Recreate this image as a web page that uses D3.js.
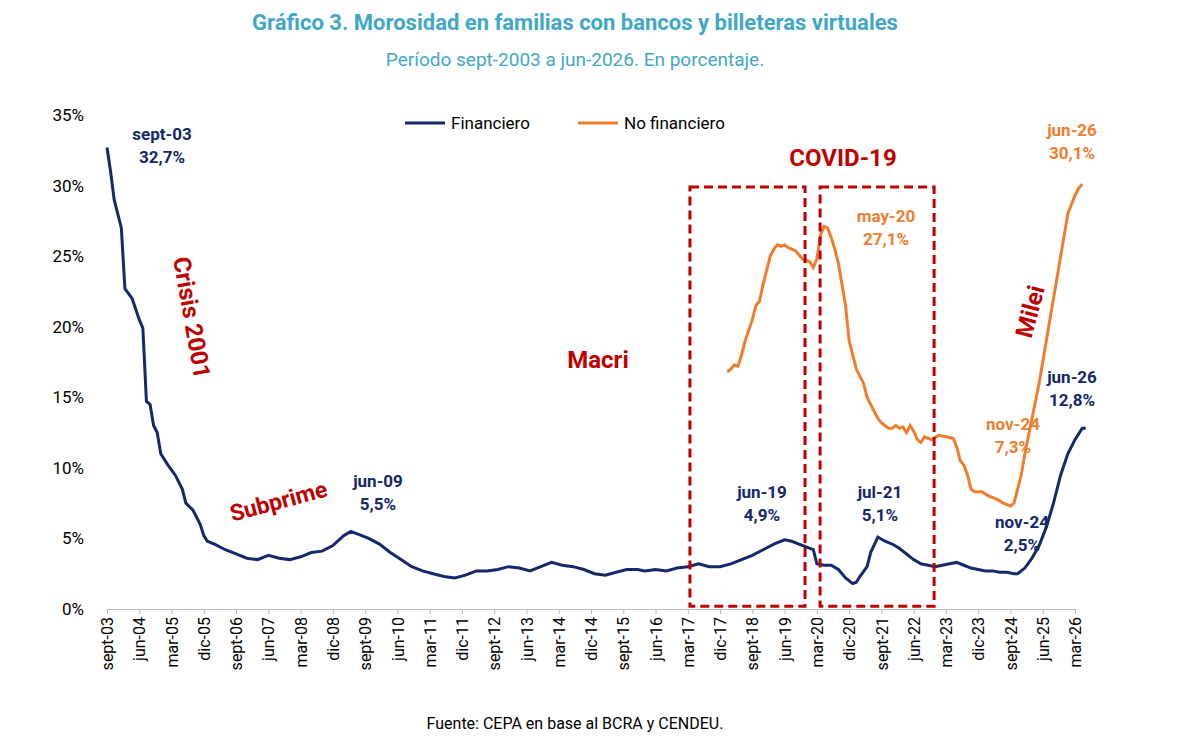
<!DOCTYPE html><html><head><meta charset="utf-8"><script src="https://cdn.jsdelivr.net/npm/d3@7"></script>
<style>body{margin:0;background:#fff;font-family:Roboto,"Noto Sans",sans-serif}</style></head><body><svg id="c" width="1200" height="741"></svg>
<script>
const fmonths=[0,1,2,4,5,7,9,10,11,12,13,14,15,17,19,21,22,24,26,27,28,30,33,36,39,42,45,48,51,54,57,60,63,66,68,70,73,76,79,82,85,88,91,94,97,100,103,106,109,112,115,118,121,124,127,130,133,136,139,142,145,148,150,153,156,159,162,165,168,171,174,177,180,183,186,189,191,193,195,197,198,200,202,204,206,208,209,210,212,213,215,217,219,221,223,225,227,229,231,233,235,237,239,241,243,245,247,249,251,253,254,256,258,260,262,264,266,268,270,272,273];
const fvals=[32.7,31,29,27,22.7,22,20.5,19.9,14.7,14.5,13,12.5,11,10.2,9.5,8.5,7.5,7,6,5.2,4.8,4.6,4.2,3.9,3.6,3.5,3.8,3.6,3.5,3.7,4,4.1,4.5,5.2,5.5,5.3,5,4.6,4,3.5,3,2.7,2.5,2.3,2.2,2.4,2.7,2.7,2.8,3,2.9,2.7,3,3.3,3.1,3,2.8,2.5,2.4,2.6,2.8,2.8,2.7,2.8,2.7,2.9,3,3.2,3,3,3.2,3.5,3.8,4.2,4.6,4.9,4.8,4.6,4.4,4.2,3.2,3.1,3.1,2.8,2.2,1.8,1.9,2.3,3,4,5.1,4.8,4.6,4.3,3.9,3.5,3.2,3.1,3,3.1,3.2,3.3,3.1,2.9,2.8,2.7,2.7,2.6,2.6,2.5,2.5,2.9,3.6,4.5,5.8,7.5,9.5,11,12,12.8,12.8];
const nmonths=[173,174,175,176,177,178,180,181,182,183,184,185,186,187,188,189,190,192,194,196,197,198,199,200,201,202,203,204,205,206,207,208,209,210,211,212,213,214,215,216,217,218,219,220,221,222,223,224,225,226,227,228,230,232,234,236,237,238,239,240,241,242,244,246,248,250,252,253,254,255,256,258,260,262,264,266,268,270,271,272];
const nvals=[16.8,17,17.3,17.2,18,19,20.5,21.5,21.8,23,24,25,25.5,25.8,25.7,25.8,25.6,25.4,24.8,24.6,24.2,24.8,26.5,27.1,27,26.3,25.5,24.5,23,21.5,19,18,17,16.5,16,15,14.5,14,13.5,13.2,13,12.8,12.8,13,12.8,12.9,12.5,13,12.6,12,11.8,12.2,12,12.3,12.2,12.1,11.5,10.5,10.2,9.5,8.5,8.3,8.3,8,7.8,7.5,7.3,7.5,8.5,9.5,11,13.5,16,19,22,25,28,29.3,29.8,30.1];
const tickLabels=["sept-03","jun-04","mar-05","dic-05","sept-06","jun-07","mar-08","dic-08","sept-09","jun-10","mar-11","dic-11","sept-12","jun-13","mar-14","dic-14","sept-15","jun-16","mar-17","dic-17","sept-18","jun-19","mar-20","dic-20","sept-21","jun-22","mar-23","dic-23","sept-24","jun-25","mar-26"];
const yTicks=[0,5,10,15,20,25,30,35];
const boxes=[[162.6,194.7],[198.9,230.7]];
const svg=d3.select("#c");
const x=d3.scaleLinear().domain([0,270]).range([107,1075]);
const y=d3.scaleLinear().domain([0,35]).range([609,115]);
const navy="#14286b",orange="#f07d2e",red="#c00000";
svg.append("text").attr("x",575).attr("y",30).attr("text-anchor","middle").attr("fill","#3fa8c8").attr("font-weight","bold").attr("font-size",22).text("Gráfico 3. Morosidad en familias con bancos y billeteras virtuales");
svg.append("text").attr("x",575).attr("y",66).attr("text-anchor","middle").attr("fill","#3fa8c8").attr("font-size",19).text("Período sept-2003 a jun-2026. En porcentaje.");
svg.append("g").attr("transform","translate(0,609)").call(d3.axisBottom(x).tickValues(d3.range(0,271,9)).tickFormat((d,i)=>tickLabels[i]).tickSize(5))
 .call(g=>{g.select(".domain").attr("stroke","#bbb");g.selectAll("line").attr("stroke","#bbb");g.selectAll("text").attr("transform","rotate(-90)").attr("text-anchor","end").attr("dx","-0.5em").attr("dy","0.35em").attr("x",0).attr("y",0).attr("font-size",16).attr("fill","#000").attr("font-family","Roboto")});
svg.append("g").call(g=>{yTicks.forEach(t=>g.append("text").attr("x",84).attr("y",y(t)+6).attr("text-anchor","end").attr("font-size",17).text(t+"%"))});
const line=d3.line().x(d=>x(d[0])).y(d=>y(d[1]));
svg.append("path").datum(nmonths.map((m,i)=>[m,nvals[i]])).attr("d",line).attr("fill","none").attr("stroke",orange).attr("stroke-width",3);
svg.append("path").datum(fmonths.map((m,i)=>[m,fvals[i]])).attr("d",line).attr("fill","none").attr("stroke",navy).attr("stroke-width",3);
boxes.forEach(b=>svg.append("rect").attr("x",x(b[0])).attr("y",y(29.9)).attr("width",x(b[1])-x(b[0])).attr("height",y(0.2)-y(29.9)).attr("fill","none").attr("stroke",red).attr("stroke-width",3).attr("stroke-dasharray","9,5"));
svg.append("line").attr("x1",405).attr("x2",445).attr("y1",123).attr("y2",123).attr("stroke",navy).attr("stroke-width",3);
svg.append("text").attr("x",451).attr("y",129).attr("font-size",17).text("Financiero");
svg.append("line").attr("x1",578).attr("x2",618).attr("y1",123).attr("y2",123).attr("stroke",orange).attr("stroke-width",3);
svg.append("text").attr("x",624).attr("y",129).attr("font-size",17).text("No financiero");
function lab(xx,yy,t1,t2,c){const t=svg.append("text").attr("text-anchor","middle").attr("font-weight","bold").attr("font-size",17).attr("fill",c);t.append("tspan").attr("x",xx).attr("y",yy).text(t1);t.append("tspan").attr("x",xx).attr("y",yy+23).text(t2);}
lab(162,140,"sept-03","32,7%",navy);lab(378,487,"jun-09","5,5%",navy);lab(762,498,"jun-19","4,9%",navy);lab(880,498,"jul-21","5,1%",navy);
lab(1022,528,"nov-24","2,5%",navy);lab(1072,383,"jun-26","12,8%",navy);
lab(1072,136,"jun-26","30,1%",orange);lab(886,222,"may-20","27,1%",orange);lab(1013,430,"nov-24","7,3%",orange);
function rt(xx,yy,ang,t,fs){svg.append("text").attr("transform",`translate(${xx},${yy}) rotate(${ang})`).attr("text-anchor","middle").attr("dominant-baseline","middle").attr("font-weight","bold").attr("font-size",fs).attr("fill",red).text(t);}
rt(190,318,80,"Crisis 2001",24);rt(279,503,-15,"Subprime",23);rt(598,362,0,"Macri",24);rt(843,160,0,"COVID-19",24);rt(1032,312,-75,"Milei",24);
svg.append("text").attr("x",575).attr("y",729).attr("text-anchor","middle").attr("font-size",16).text("Fuente: CEPA en base al BCRA y CENDEU.");
</script></body></html>
